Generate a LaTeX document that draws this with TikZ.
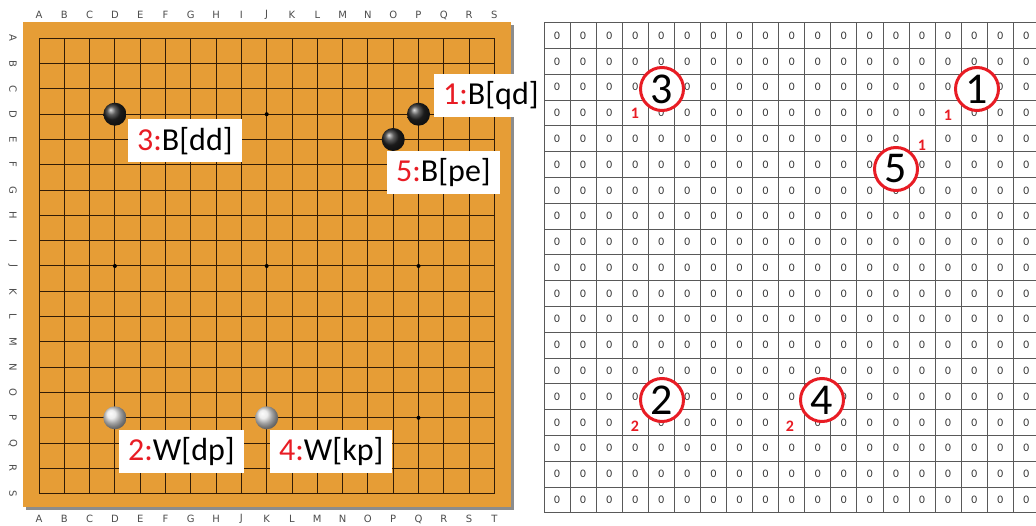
\documentclass[tikz,border=0pt]{standalone}
\usepackage{fontspec}
\setmainfont{Carlito}
\newfontfamily\coordfont{DejaVu Sans}
\usetikzlibrary{positioning}
\definecolor{boardwood}{RGB}{230,157,54}
\definecolor{gridline}{RGB}{50,28,6}
\definecolor{markred}{RGB}{232,28,36}

\begin{document}
\begin{tikzpicture}[x=1pt, y=-1pt,
		coordlabel/.style={font=\coordfont\fontsize{10}{10}\selectfont, text=black!70, inner sep=0pt},
		stone/.style={circle, minimum size=23pt, inner sep=0pt},
		blackstone/.style={stone, ball color=black!85},
		whitestone/.style={stone, ball color=white!90!black},
		hoshi/.style={circle, fill=black, minimum size=4pt, inner sep=0pt},
		tag/.style={fill=white, anchor=west, inner xsep=9pt, minimum height=43pt, font=\fontsize{32}{32}\selectfont},
		cell/.style={font=\fontsize{11.5}{11.5}\selectfont, text=black!80, inner sep=0pt},
		ring/.style={circle, draw=markred, line width=3pt, fill=white, minimum size=43pt, inner sep=0pt, font=\fontsize{44}{44}\selectfont},
		hint/.style={text=markred, font=\bfseries\fontsize{16}{16}\selectfont, inner sep=0pt}
		]
		
		\clip (0,0) rectangle (1036,526);
		
		% Board
		\fill[black!45] (26,25) rectangle (514,510);
		\fill[boardwood] (23,22) rectangle (511,507);
		\foreach \i in {0,...,18}{
			\draw[gridline, line width=1pt] ({39+\i*25.3},38.3) -- ({39+\i*25.3},493.7);
			\draw[gridline, line width=1pt] (39,{38.3+\i*25.3}) -- (494.4,{38.3+\i*25.3});
		}
		\foreach \c in {3,9,15}
		\foreach \r in {3,9,15}
		\node (hoshi-\c-\r) [hoshi] at ({39+\c*25.3},{38.3+\r*25.3}) {};
		
		% Coordinates
		\foreach \l [count=\i from 0] in {A,B,C,D,E,F,G,H,I,J,K,L,M,N,O,P,Q,R,S}{
			\node (top-\l) [coordlabel] at ({39+\i*25.3},15) {\l};
			\node (side-\l) [coordlabel, rotate=-90] at (13,{38.3+\i*25.3}) {\l};
		}
		\foreach \l [count=\i from 0] in {A,B,C,D,E,F,G,H,J,K,L,M,N,O,P,Q,R,S,T}
		\node (bot-\l) [coordlabel] at ({39+\i*25.3},519) {\l};
		
		% Stones
		\node (s1) [blackstone] at ({39+15*25.3},{38.3+3*25.3}) {};
		\node (s3) [blackstone] at ({39+3*25.3},{38.3+3*25.3}) {};
		\node (s5) [blackstone] at ({39+14*25.3},{38.3+4*25.3}) {};
		\node (s2) [whitestone] at ({39+3*25.3},{38.3+15*25.3}) {};
		\node (s4) [whitestone] at ({39+9*25.3},{38.3+15*25.3}) {};
		
		% Move labels
		\node (lbl1) [tag] at (434,95.5) {\textcolor{markred}{1:}B[qd]};
		\node (lbl5) [tag] at (387,172.5) {\textcolor{markred}{5:}B[pe]};
		\node (lbl3) [tag] at (128,141) {\textcolor{markred}{3:}B[dd]};
		\node (lbl2) [tag] at (119,451.5) {\textcolor{markred}{2:}W[dp]};
		\node (lbl4) [tag] at (270,451.5) {\textcolor{markred}{4:}W[kp]};
		
		% Matrix
		\foreach \k in {0,...,19}{
			\draw[black!65, line width=0.8pt] ({544+\k*26.07},22.7) -- ({544+\k*26.07},512.7);
			\draw[black!65, line width=0.8pt] (544,{22.7+\k*25.79}) -- (1040,{22.7+\k*25.79});
		}
		\foreach \c in {0,...,18}
		\foreach \r in {0,...,18}{
			\pgfmathtruncatemacro\hide{(\c==3 && \r==3) || (\c==15 && \r==3) || (\c==14 && \r==4) || (\c==3 && \r==15) || (\c==9 && \r==15)}
			\ifnum\hide=0
			\node (z-\c-\r) [cell] at ({544+(\c+0.5)*26.07},{22.7+(\r+0.5)*25.79}) {0};
			\fi
		}
		
		% Marks
		\node (r3) [ring] at (662,89) {3};
		\node (r1) [ring] at (977,89) {1};
		\node (r5) [ring] at (896,169) {5};
		\node (r2) [ring] at (662,400) {2};
		\node (r4) [ring] at (822,400) {4};
		\node (h1a) [hint] at (635,113) {1};
		\node (h1b) [hint] at (948,115) {1};
		\node (h1c) [hint] at (922,145) {1};
		\node (h2a) [hint] at (635,426) {2};
		\node (h2b) [hint] at (790,426) {2};
		
	\end{tikzpicture}
\end{document}
